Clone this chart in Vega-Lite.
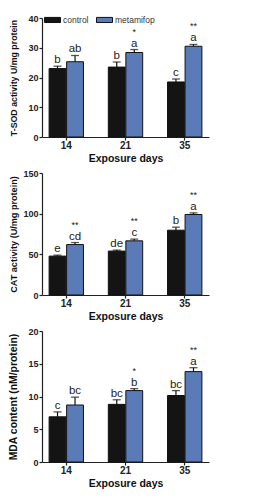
{
  "$schema": "https://vega.github.io/schema/vega-lite/v6.json",
  "padding": {"left": 7, "top": 11, "right": 5, "bottom": 5},
  "spacing": 5,
  "background": "white",
  "config": {
    "font": "Liberation Sans",
    "view": {"stroke": null},
    "axis": {"grid": false, "domainColor": "#222", "tickColor": "#222", "labelColor": "#222", "titleColor": "#111", "tickSize": 3, "domainWidth": 1.2, "tickWidth": 1.2, "labelOverlap": false},
    "axisY": {"labelFontWeight": "bold", "labelFontSize": 9, "labelPadding": 1, "minExtent": 22, "maxExtent": 22, "titlePadding": 2, "titleFontWeight": "bold", "titleFontSize": 9},
    "axisX": {"labelFontWeight": "bold", "labelFontSize": 10, "labelPadding": 0, "labelAngle": 0, "titleFontWeight": "bold", "titleFontSize": 10.5, "titlePadding": 3}
  },
  "datasets": {
    "sod": [
      {"day": "14", "group": "control", "value": 23.0, "hi": 23.8, "letter": "b", "star": ""},
      {"day": "14", "group": "metamifop", "value": 25.3, "hi": 27.4, "letter": "ab", "star": ""},
      {"day": "21", "group": "control", "value": 23.5, "hi": 25.2, "letter": "b", "star": ""},
      {"day": "21", "group": "metamifop", "value": 28.4, "hi": 29.4, "letter": "a", "star": "*"},
      {"day": "35", "group": "control", "value": 18.5, "hi": 19.5, "letter": "c", "star": ""},
      {"day": "35", "group": "metamifop", "value": 30.5, "hi": 31.1, "letter": "a", "star": "**"}
    ],
    "cat": [
      {"day": "14", "group": "control", "value": 47.8, "hi": 49.0, "letter": "e", "star": ""},
      {"day": "14", "group": "metamifop", "value": 62.0, "hi": 64.5, "letter": "cd", "star": "**"},
      {"day": "21", "group": "control", "value": 54.0, "hi": 55.2, "letter": "de", "star": ""},
      {"day": "21", "group": "metamifop", "value": 66.6, "hi": 68.7, "letter": "c", "star": "**"},
      {"day": "35", "group": "control", "value": 79.7, "hi": 83.4, "letter": "b", "star": ""},
      {"day": "35", "group": "metamifop", "value": 99.0, "hi": 101.0, "letter": "a", "star": "**"}
    ],
    "mda": [
      {"day": "14", "group": "control", "value": 6.9, "hi": 7.65, "letter": "c", "star": ""},
      {"day": "14", "group": "metamifop", "value": 8.7, "hi": 9.9, "letter": "bc", "star": ""},
      {"day": "21", "group": "control", "value": 8.8, "hi": 9.5, "letter": "bc", "star": ""},
      {"day": "21", "group": "metamifop", "value": 10.9, "hi": 11.2, "letter": "b", "star": "*"},
      {"day": "35", "group": "control", "value": 10.15, "hi": 10.9, "letter": "bc", "star": ""},
      {"day": "35", "group": "metamifop", "value": 13.8, "hi": 14.4, "letter": "a", "star": "**"}
    ]
  },
  "vconcat": [
    {
      "width": 167, "height": 119,
      "data": {"name": "sod"},
      "encoding": {
        "x": {"field": "day", "type": "nominal", "title": "Exposure days", "scale": {"paddingInner": 0.42, "paddingOuter": 0.12}},
        "xOffset": {"field": "group", "type": "nominal", "scale": {"paddingInner": 0.04}},
        "y": {"field": "value", "type": "quantitative", "title": "T-SOD activity U/mg protein", "scale": {"domain": [0, 40]}, "axis": {"tickCount": 4, "titleFontSize": 8.8}}
      },
      "layer": [
        {"mark": {"type": "bar", "stroke": "#111", "strokeWidth": 1},
         "encoding": {
           "color": {"field": "group", "type": "nominal", "scale": {"domain": ["control", "metamifop"], "range": ["#141414", "#5b7bb8"]},
             "legend": {"title": null, "orient": "none", "legendX": 2, "legendY": -7, "direction": "horizontal", "symbolType": "M-1,-0.32H1V0.32H-1Z", "symbolSize": 256, "symbolStrokeColor": "#111", "symbolStrokeWidth": 1, "labelFontSize": 8.5, "labelColor": "#333", "columnPadding": 5, "labelOffset": 2}}
         }},
        {"mark": {"type": "rule", "color": "#111", "strokeWidth": 1.2},
         "encoding": {"y2": {"field": "hi"}}},
        {"mark": {"type": "tick", "color": "#111", "thickness": 1.3, "size": 8},
         "encoding": {"y": {"field": "hi", "type": "quantitative", "title": "T-SOD activity U/mg protein", "axis": {"tickCount": 4, "titleFontSize": 8.8}}}},
        {"mark": {"type": "text", "baseline": "bottom", "dy": -1, "fontSize": 11.5, "color": "#222"},
         "encoding": {"y": {"field": "hi", "type": "quantitative", "title": "T-SOD activity U/mg protein", "axis": {"tickCount": 4, "titleFontSize": 8.8}}, "text": {"field": "letter"}}},
        {"mark": {"type": "text", "baseline": "bottom", "dy": -13, "fontSize": 9, "color": "#222"},
         "encoding": {"y": {"field": "hi", "type": "quantitative", "title": "T-SOD activity U/mg protein", "axis": {"tickCount": 4, "titleFontSize": 8.8}}, "text": {"field": "star"}}}
      ]
    },
    {
      "width": 167, "height": 122,
      "data": {"name": "cat"},
      "encoding": {
        "x": {"field": "day", "type": "nominal", "title": "Exposure days", "scale": {"paddingInner": 0.42, "paddingOuter": 0.12}},
        "xOffset": {"field": "group", "type": "nominal", "scale": {"paddingInner": 0.12}},
        "y": {"field": "value", "type": "quantitative", "title": "CAT activity (U/mg protein)", "scale": {"domain": [0, 150]}, "axis": {"tickCount": 3, "titleFontSize": 9.1}}
      },
      "layer": [
        {"mark": {"type": "bar", "stroke": "#111", "strokeWidth": 1},
         "encoding": {
           "color": {"field": "group", "type": "nominal", "scale": {"domain": ["control", "metamifop"], "range": ["#141414", "#5b7bb8"]}, "legend": null}
         }},
        {"mark": {"type": "rule", "color": "#111", "strokeWidth": 1.2},
         "encoding": {"y2": {"field": "hi"}}},
        {"mark": {"type": "tick", "color": "#111", "thickness": 1.3, "size": 8},
         "encoding": {"y": {"field": "hi", "type": "quantitative", "title": "CAT activity (U/mg protein)", "axis": {"tickCount": 3, "titleFontSize": 9.1}}}},
        {"mark": {"type": "text", "baseline": "bottom", "dy": -1, "fontSize": 11.5, "color": "#222"},
         "encoding": {"y": {"field": "hi", "type": "quantitative", "title": "CAT activity (U/mg protein)", "axis": {"tickCount": 3, "titleFontSize": 9.1}}, "text": {"field": "letter"}}},
        {"mark": {"type": "text", "baseline": "bottom", "dy": -13, "fontSize": 9, "color": "#222"},
         "encoding": {"y": {"field": "hi", "type": "quantitative", "title": "CAT activity (U/mg protein)", "axis": {"tickCount": 3, "titleFontSize": 9.1}}, "text": {"field": "star"}}}
      ]
    },
    {
      "width": 167, "height": 131,
      "data": {"name": "mda"},
      "encoding": {
        "x": {"field": "day", "type": "nominal", "title": "Exposure days", "scale": {"paddingInner": 0.42, "paddingOuter": 0.12}},
        "xOffset": {"field": "group", "type": "nominal", "scale": {"paddingInner": 0.12}},
        "y": {"field": "value", "type": "quantitative", "title": "MDA content (nM/protein)", "scale": {"domain": [0, 20]}, "axis": {"tickCount": 4, "titleFontSize": 10.4}}
      },
      "layer": [
        {"mark": {"type": "bar", "stroke": "#111", "strokeWidth": 1},
         "encoding": {
           "color": {"field": "group", "type": "nominal", "scale": {"domain": ["control", "metamifop"], "range": ["#141414", "#5b7bb8"]}, "legend": null}
         }},
        {"mark": {"type": "rule", "color": "#111", "strokeWidth": 1.2},
         "encoding": {"y2": {"field": "hi"}}},
        {"mark": {"type": "tick", "color": "#111", "thickness": 1.3, "size": 8},
         "encoding": {"y": {"field": "hi", "type": "quantitative", "title": "MDA content (nM/protein)", "axis": {"tickCount": 4, "titleFontSize": 10.4}}}},
        {"mark": {"type": "text", "baseline": "bottom", "dy": -1, "fontSize": 11.5, "color": "#222"},
         "encoding": {"y": {"field": "hi", "type": "quantitative", "title": "MDA content (nM/protein)", "axis": {"tickCount": 4, "titleFontSize": 10.4}}, "text": {"field": "letter"}}},
        {"mark": {"type": "text", "baseline": "bottom", "dy": -13, "fontSize": 9, "color": "#222"},
         "encoding": {"y": {"field": "hi", "type": "quantitative", "title": "MDA content (nM/protein)", "axis": {"tickCount": 4, "titleFontSize": 10.4}}, "text": {"field": "star"}}}
      ]
    }
  ]
}
